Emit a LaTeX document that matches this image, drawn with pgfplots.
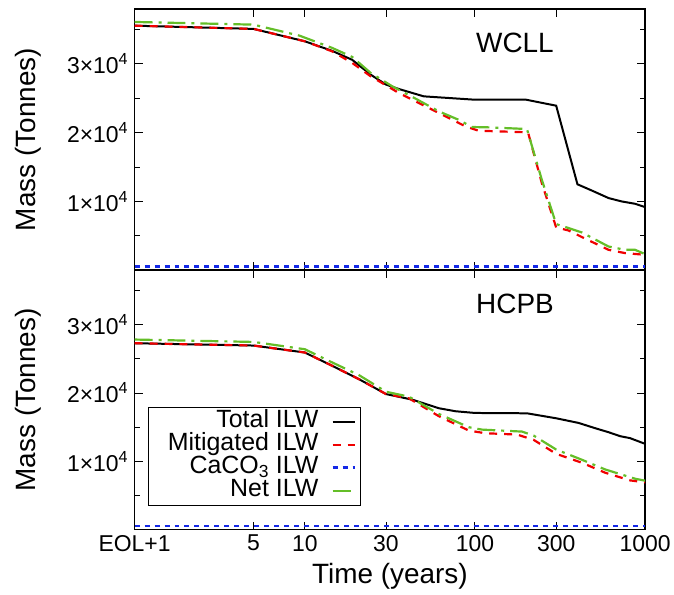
\documentclass[border=0pt]{standalone}
\usepackage{fontspec}
\setmainfont{Liberation Sans}
\usepackage{pgfplots}
\pgfplotsset{compat=1.18}

\definecolor{netgreen}{RGB}{100,190,40}
\definecolor{cablue}{RGB}{20,40,230}
\definecolor{mitred}{RGB}{240,0,0}

\pgfplotsset{
  mypanel/.style={
    scale only axis, width=512pt,
    xmin=1, xmax=1000,
    ymin=0, ymax=38000,
    scaled y ticks=false,
    xtick={1,5,10,30,100,300,1000},
    minor xtick={},
    ytick={10000,20000,30000},
    minor ytick={5000,15000,25000,35000},
    yticklabels={1×10\textsuperscript{4},2×10\textsuperscript{4},3×10\textsuperscript{4}},
    tick align=inside, major tick length=8pt, minor tick length=5pt,
    axis line style={line width=1.5pt},
    every tick/.style={line width=1pt, black},
    ticklabel style={font=\fontsize{23}{26}\selectfont},
    yticklabel style={xshift=-3pt},
    xticklabel style={yshift=-2pt},
    label style={font=\fontsize{28}{32}\selectfont},
    ylabel={Mass (Tonnes)},
    ylabel style={at={(-0.209,0.5)}, anchor=center},
  },
  total/.style={black, line width=2pt},
  mitig/.style={mitred, line width=2.2pt, dash pattern=on 8pt off 7pt},
  caco/.style={cablue, line width=2.5pt, dash pattern=on 5pt off 5pt},
  net/.style={netgreen, line width=2.2pt, dash pattern=on 18pt off 6pt on 3pt off 6pt},
}
\newcommand{\legtxt}[1]{\makebox[163pt][r]{#1}}

\begin{document}
\begin{tikzpicture}
\path (0,0) rectangle (674pt,596pt);

% WCLL
\begin{semilogxaxis}[mypanel, height=262pt, at={(135pt,325pt)}, anchor=south west,
  xticklabels={}]
\addplot[total] coordinates {
 (1,35570) (5,35100) (10,33300) (14.5,31900) (19,30600) (24.4,28440)
 (30,27000) (35.7,26360) (50,25290) (100,24800) (200,24800) (300,23930)
 (400,12500) (490,11550) (610,10490) (730,10000) (870,9670) (1000,9180)};
\addplot[mitig] coordinates {
 (1,35570) (5,35100) (10,33300) (14.5,31830) (19,30150) (24.4,28200)
 (30,26900) (35.7,25780) (44.8,24560) (61.4,22870) (88,20920) (105,20290)
 (181,20100) (205,20050) (247,12680) (300,6220) (355,5780) (425,4820)
 (609,2970) (762,2490) (1000,2240)};
\addplot[caco] coordinates {(1,540) (1000,540)};
\addplot[net] coordinates {
 (1,36110) (5,35720) (9.3,34120) (14.5,32330) (19,31020) (24.4,28690)
 (32.7,26740) (44.8,24950) (61.4,23100) (80,21890) (96,20830) (120,20780)
 (202,20540) (247,13160) (300,6710) (355,6130) (425,5490) (609,3450)
 (762,2970) (872,2970) (1000,2340)};
\node[font=\fontsize{28}{32}\selectfont] at (rel axis cs:0.745,0.869) {WCLL};
\end{semilogxaxis}

% HCPB
\begin{semilogxaxis}[mypanel, height=260pt, at={(135pt,65pt)}, anchor=south west,
  xticklabels={EOL+1,5,10,30,100,300,1000},
  xlabel={Time (years)},
  xlabel style={at={(0.5,-0.18)}, anchor=center},
  legend plot pos=right,
  legend cell align=right,
  legend image code/.code={\draw[#1] (0pt,0pt) -- (22pt,0pt);},
  legend style={at={(0.027,0.473)}, anchor=north west, draw=black, line width=1pt,
    font=\fontsize{25}{28}\selectfont,
    nodes={text height=17pt, text depth=5pt, inner ysep=0.5pt},
    column sep=11pt,
    inner xsep=5pt, inner ysep=3pt}]
\addplot[total] coordinates {
 (1,27300) (5,26960) (10,25940) (14.5,23990) (20.8,22040) (30,19850)
 (42.8,19030) (61.4,17770) (76.9,17330) (100,17080) (202,17030) (300,16300)
 (406,15620) (508,14850) (609,14260) (712,13680) (815,13390) (1000,12550)};
\addlegendentry{\legtxt{Total ILW}}
\addplot[mitig] coordinates {
 (1,27300) (5,26960) (10,25940) (14.5,23990) (20.8,22040) (30,19850)
 (40.9,19230) (61.4,16600) (92,14500) (115,14110) (177,13910) (221,13140)
 (300,11090) (425,9780) (582,8320) (815,7200) (1000,6900)};
\addlegendentry{\legtxt{Mitigated ILW}}
\addplot[caco] coordinates {(1,480) (1000,480)};
\addlegendentry{\legtxt{CaCO\textsubscript{3} ILW}}
\addplot[net] coordinates {
 (1,27840) (5,27490) (10,26420) (14.5,24480) (20.8,22630) (30,20190)
 (40.9,19470) (61.4,16930) (92,14990) (110,14640) (189,14350) (221,13770)
 (300,11720) (425,10220) (582,8800) (870,7450) (1000,7150)};
\addlegendentry{\legtxt{Net ILW}}
\node[font=\fontsize{28}{32}\selectfont] at (rel axis cs:0.745,0.869) {HCPB};
\end{semilogxaxis}
\end{tikzpicture}
\end{document}
